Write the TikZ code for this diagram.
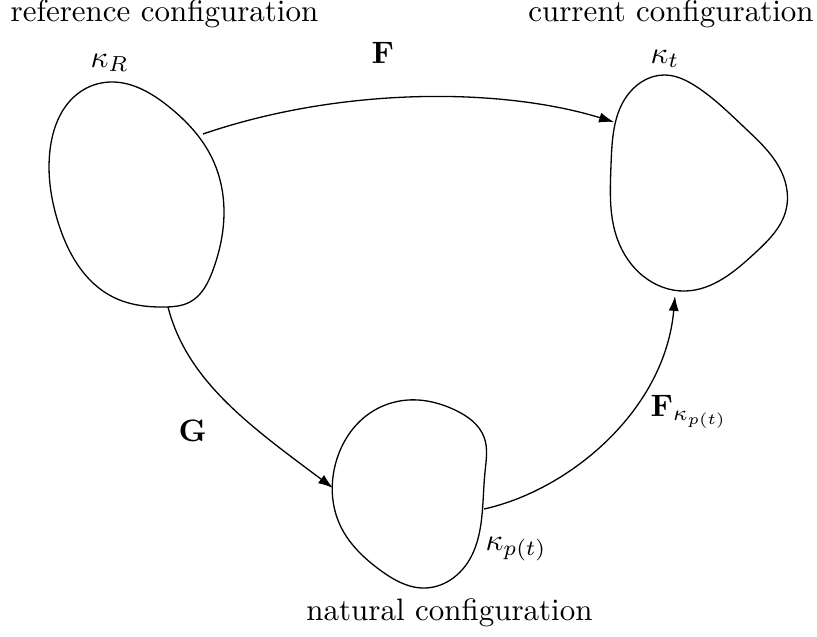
\documentclass[tikz,border=0pt]{standalone}
\usetikzlibrary{arrows.meta,hobby}
\begin{document}
\begin{tikzpicture}[x={(0.3226pt,0)},y={(0,-0.3226pt)},
  blob/.style={line width=0.42pt,closed hobby},
  conn/.style={line width=0.42pt,-{Latex[length=4.8pt,width=3.3pt]}},
  lbl/.style={inner sep=0pt,font=\fontsize{10}{12}\selectfont},
  bw/.style={lbl,anchor=base west}]
\useasboundingbox (0,0) rectangle (817,636);
% reference configuration body
\draw[blob] plot coordinates {(110,82) (168,106) (212,158) (224,212) (213,270) (190,302) (165,307) (113,297) (58,222) (50,150) (80,92)};
% current configuration body
\draw[blob] plot coordinates {(665,75) (697,87) (745,128) (782,173) (786,210) (755,253) (685,291) (643,276) (616,235) (611,165) (630,92)};
% natural configuration body
\draw[blob] plot coordinates {(408,400) (455,410) (484,437) (485,472) (482,515) (466,565) (425,588) (380,570) (340,525) (336,462) (370,413)};
% connector endpoints on the outlines
\coordinate (rF) at (203,134);
\coordinate (rG) at (168,307);
\coordinate (cF) at (614,122);
\coordinate (cK) at (675,296);
\coordinate (nG) at (333,488);
\coordinate (nK) at (484,509);
% connectors
\draw[conn] (rF) .. controls (340,87) and (500,87) .. (cF);
\draw[conn] (rG) .. controls (187,381) and (250,426) .. (nG);
\draw[conn] (nK) .. controls (570,490) and (665,410) .. (cK);
% texts
\node[lbl,anchor=base] (tref) at (164.5,21) {reference configuration};
\node[lbl,anchor=base] (tcur) at (671,21) {current configuration};
\node[lbl,anchor=base] (tnat) at (449.5,620) {natural configuration};
\node[bw] (kR) at (90,67) {$\kappa_R$};
\node[bw] (kt) at (650,63) {$\kappa_t$};
\node[bw] (kp) at (485,550) {$\kappa_{p(t)}$};
\node[bw] (lF) at (371,63) {$\mathbf{F}$};
\node[bw] (lG) at (178,441) {$\mathbf{G}$};
\node[bw] (lFk) at (650,416) {$\mathbf{F}_{\kappa_{p(t)}}$};
\end{tikzpicture}
\end{document}
